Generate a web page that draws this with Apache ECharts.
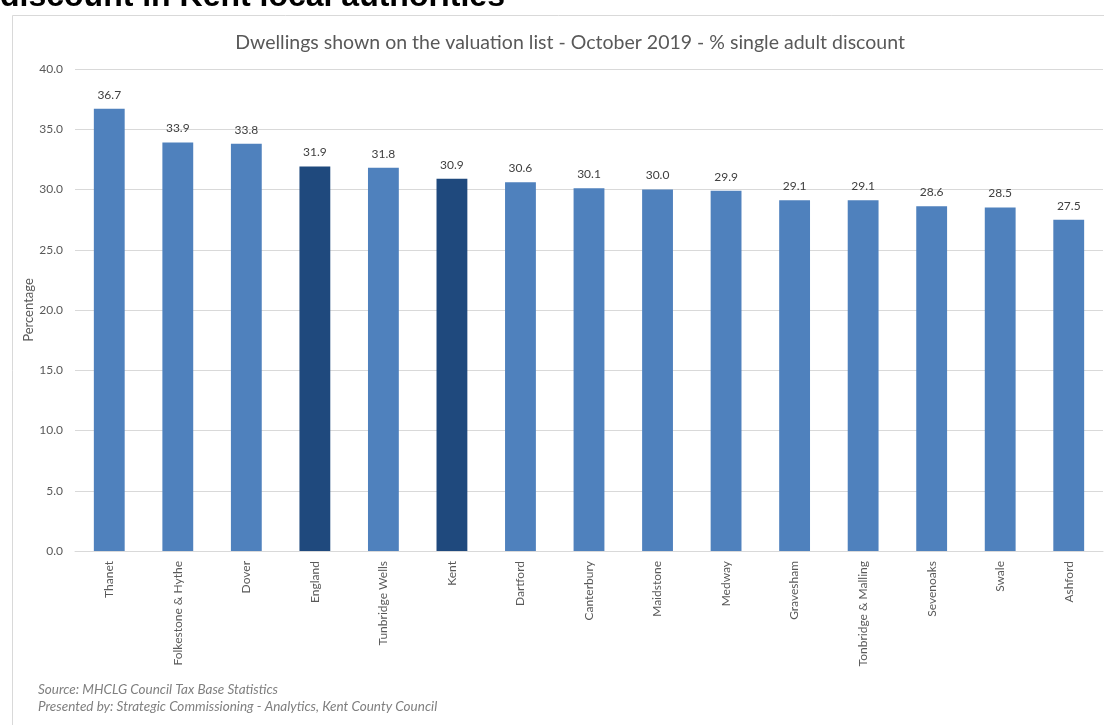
<!DOCTYPE html>
<html>
<head>
<meta charset="utf-8">
<script src="https://cdn.jsdelivr.net/npm/echarts@6/dist/echarts.min.js"></script>
<style>
  html, body { margin: 0; padding: 0; background: #fff; }
  #chart { width: 1104px; height: 725px; }
</style>
</head>
<body>
<div id="chart"></div>
<script>
  // categories and values
  var areas = ['Thanet', 'Folkestone & Hythe', 'Dover', 'England', 'Tunbridge Wells', 'Kent',
    'Dartford', 'Canterbury', 'Maidstone', 'Medway', 'Gravesham', 'Tonbridge & Malling',
    'Sevenoaks', 'Swale', 'Ashford'];
  var singleAdultPct = [36.7, 33.9, 33.8, 31.9, 31.8, 30.9, 30.6, 30.1, 30.0, 29.9, 29.1, 29.1, 28.6, 28.5, 27.5];
  var highlighted = ['England', 'Kent'];

  var lightBlue = '#4F81BD';
  var darkBlue = '#1F497D';
  var font = 'Lato, "Open Sans", sans-serif';

  var myChart = echarts.init(document.getElementById('chart'));
  var barData = singleAdultPct.map(function (v, i) {
    return {
      value: v,
      itemStyle: { color: highlighted.indexOf(areas[i]) >= 0 ? darkBlue : lightBlue }
    };
  });

  var option = {
    animation: false,
    graphic: [
      {
        type: 'rect',
        shape: { x: 12.5, y: 15.5, width: 1200, height: 800 },
        style: { fill: '#fff', stroke: '#d9d9d9', lineWidth: 1 },
        z: -10
      },
      {
        // page heading, cut off by the top edge
        type: 'text',
        style: {
          x: 0, y: 13,
          verticalAlign: 'bottom',
          text: 'discount in Kent local authorities',
          font: 'bold 32px "Liberation Sans", Arial, sans-serif',
          fill: '#000'
        }
      },
      {
        type: 'text',
        left: 38, top: 681,
        style: {
          text: 'Source: MHCLG Council Tax Base Statistics\nPresented by: Strategic Commissioning - Analytics, Kent County Council',
          font: 'italic 13.5px ' + font,
          fill: '#7f7f7f',
          lineHeight: 17
        }
      }
    ],
    title: {
      text: 'Dwellings shown on the valuation list - October 2019 - % single adult discount',
      left: 565, top: 28,
      textAlign: 'center',
      textStyle: { fontFamily: font, fontSize: 19.5, fontWeight: 'normal', color: '#595959' }
    },
    grid: { left: 75, right: 1, top: 69, bottom: 174 },
    xAxis: {
      type: 'category',
      data: areas,
      axisTick: { show: false },
      axisLine: { lineStyle: { color: '#d9d9d9' } },
      axisLabel: { rotate: 90, interval: 0, color: '#595959', fontFamily: font, fontSize: 12, margin: 10 }
    },
    yAxis: {
      type: 'value',
      min: 0, max: 40, interval: 5,
      name: 'Percentage',
      nameLocation: 'middle',
      nameGap: 40,
      nameMoveOverlap: false,
      nameTextStyle: { color: '#595959', fontFamily: font, fontSize: 13 },
      axisLabel: {
        color: '#595959', fontFamily: font, fontSize: 12, margin: 12,
        formatter: function (v) { return v.toFixed(1); }
      },
      splitLine: { lineStyle: { color: '#d9d9d9' } }
    },
    series: [{
      type: 'bar',
      data: barData,
      barWidth: '45%',
      label: {
        show: true, position: 'top', distance: 8,
        color: '#404040', fontFamily: font, fontSize: 12,
        formatter: function (p) { return p.value.toFixed(1); }
      }
    }]
  };
  myChart.setOption(option);
</script>
</body>
</html>
